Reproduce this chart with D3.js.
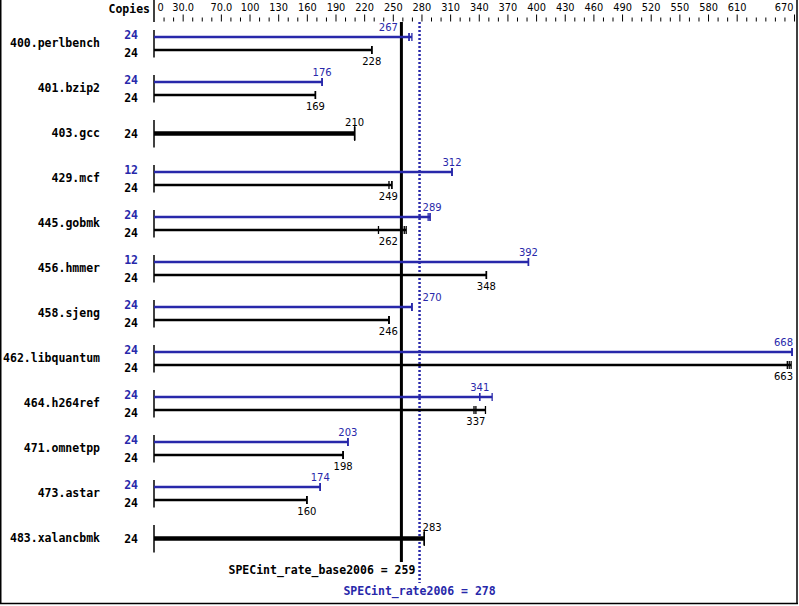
<!DOCTYPE html>
<html><head><meta charset="utf-8">
<script src="https://cdn.jsdelivr.net/npm/d3@7"></script>
<style>
html,body{margin:0;padding:0;background:#fff;}
svg{display:block;}
.mono{font-family:"DejaVu Sans Mono",monospace;font-weight:bold;font-size:11.5px;}
.val{font-family:"DejaVu Sans",sans-serif;font-size:10px;}
.tick text{font-family:"DejaVu Sans",sans-serif;font-size:9.8px;}
</style></head>
<body>
<svg id="chart" width="799" height="606"></svg>
<script>
const benchmarks = ["400.perlbench","401.bzip2","403.gcc","429.mcf","445.gobmk","456.hmmer","458.sjeng","462.libquantum","464.h264ref","471.omnetpp","473.astar","483.xalancbmk"];
const baseCopies = [24,24,24,24,24,24,24,24,24,24,24,24];
const peakCopies = [24,24,null,12,24,12,24,24,24,24,24,null];
const baseRatio = [228,169,210,249,262,348,246,663,337,198,160,283];
const peakRatio = [267,176,null,312,289,392,270,668,341,203,174,null];
const baseRuns = [[228,228,228],[169,169,169],[210,210,210],[246,249,249],[235,262,264],[348,348,348],[246,246,246],[663,665,667],[335,337,347],[198,198,198],[160,160,160],[283,283,283]];
const peakRuns = [[267,267,270],[176,176,176],null,[312,312,312],[287,289,289],[392,392,392],[270,270,270],[668,668,668],[341,341,354],[203,203,203],[174,174,174],null];
const tickValues = [0,30,70,100,130,160,190,220,250,280,310,340,370,400,430,460,490,520,550,580,610,670];
const tickLabels = ["0","30.0","70.0","100","130","160","190","220","250","280","310","340","370","400","430","460","490","520","550","580","610","670"];
const minorTicks = d3.range(10, 670, 10);
const baseMean = 259, peakMean = 278;
const baseMeanLabel = "SPECint_rate_base2006 = 259";
const peakMeanLabel = "SPECint_rate2006 = 278";

const BLUE = "#2828aa";
const svg = d3.select("#chart");
const x = d3.scaleLinear().domain([0,670]).range([154,794]);
const y = d3.scaleBand().domain(benchmarks).range([21,561]).padding(0);
const cy = b => y(b) + y.bandwidth()/2;

// border
svg.append("line").attr("x1",0.75).attr("x2",0.75).attr("y1",0).attr("y2",604).attr("stroke","#000").attr("stroke-width",1.5);
svg.append("line").attr("x1",797).attr("x2",797).attr("y1",0).attr("y2",604).attr("stroke","#000").attr("stroke-width",1.5);
svg.append("line").attr("x1",0).attr("x2",798).attr("y1",603.5).attr("y2",603.5).attr("stroke","#000").attr("stroke-width",1.5);

// header
svg.append("text").attr("class","mono").attr("x",150).attr("y",13).attr("text-anchor","end").text("Copies");
svg.append("line").attr("x1",x(0)).attr("x2",x(0)).attr("y1",0).attr("y2",22).attr("stroke","#000").attr("stroke-width",1.5);

const axisY = 21.5;
const major = svg.append("g").attr("transform",`translate(0,${axisY})`)
  .call(d3.axisTop(x).tickValues(tickValues).tickSize(7).tickPadding(4)
        .tickFormat((d,i)=>tickLabels[i]));
major.select(".domain").remove();
major.selectAll(".tick line").attr("stroke","#000").attr("stroke-width",1).filter(d=>d===0).remove();
major.selectAll(".tick text").attr("fill","#000")
  .attr("text-anchor",d=> d===0 ? "start" : (d===670 ? "end" : "middle"))
  .attr("dx",d=> d===0 ? 3 : (d===670 ? -1 : 0));
const minor = svg.append("g").attr("transform",`translate(0,${axisY})`)
  .call(d3.axisTop(x).tickValues(minorTicks.filter(v=>!tickValues.includes(v))).tickSize(4).tickFormat(""));
minor.select(".domain").remove();
minor.selectAll(".tick line").attr("stroke","#000").attr("stroke-width",1);

// mean lines
svg.append("line").attr("x1",x(baseMean)).attr("x2",x(baseMean)).attr("y1",22).attr("y2",562)
  .attr("stroke","#000").attr("stroke-width",3);
svg.append("line").attr("x1",x(peakMean)).attr("x2",x(peakMean)).attr("y1",22).attr("y2",583)
  .attr("stroke",BLUE).attr("stroke-width",2.5).attr("stroke-dasharray","2,2");
svg.append("text").attr("class","mono").attr("x",x(baseMean)+14).attr("y",574).attr("text-anchor","end").text(baseMeanLabel);
svg.append("text").attr("class","mono").attr("x",x(peakMean)).attr("y",595).attr("text-anchor","middle").attr("fill",BLUE).text(peakMeanLabel);

// keep value labels clear of the mean lines
function placeLabel(sel, value){
  const w = sel.node().getComputedTextLength();
  let cxp = x(value);
  const zones = [[x(baseMean)-3.5, x(baseMean)+3],[x(peakMean)-3.5, x(peakMean)+3]].sort((a,b)=>a[0]-b[0]);
  const merged = [];
  zones.forEach(z=>{
    if (merged.length && z[0]-merged[merged.length-1][1] < w) merged[merged.length-1][1] = Math.max(merged[merged.length-1][1], z[1]);
    else merged.push(z.slice());
  });
  merged.forEach(z=>{
    const l = cxp - w/2, r = cxp + w/2;
    if (r > z[0] && l < z[1]) {
      const left = z[0] - w/2, right = z[1] + w/2;
      cxp = (Math.abs(cxp-left) <= Math.abs(right-cxp)) ? left : right;
    }
  });
  if (cxp + w/2 > 793) cxp = 793 - w/2;
  sel.attr("x", cxp).attr("text-anchor","middle");
}

function drawBar(g, runs, value, by, color, thick, labelAbove){
  const sw = thick ? 4.5 : 2.5;
  const th = thick ? 7 : 4;
  g.append("line").attr("x1",x(0)).attr("x2",x(d3.max(runs))).attr("y1",by).attr("y2",by)
    .attr("stroke",color).attr("stroke-width",sw);
  runs.forEach(r=>{
    g.append("line").attr("x1",x(r)).attr("x2",x(r)).attr("y1",by-th).attr("y2",by+th)
      .attr("stroke",color).attr("stroke-width",1.3);
  });
  const t = g.append("text").attr("class","val").attr("fill",color)
    .attr("y", labelAbove ? by - (thick ? 7.5 : 6) : by + 14.5).text(value);
  placeLabel(t, value);
}

benchmarks.forEach((b,i)=>{
  const c = cy(b);
  const g = svg.append("g");
  g.append("line").attr("x1",x(0)).attr("x2",x(0)).attr("y1",c-13.5).attr("y2",c+14)
    .attr("stroke","#000").attr("stroke-width",1.5);
  g.append("text").attr("class","mono").attr("x",100).attr("y",c+3.5).attr("text-anchor","end").text(b);
  if (peakRatio[i] !== null) {
    g.append("text").attr("class","mono").attr("fill",BLUE).attr("x",138).attr("y",c-4.5).attr("text-anchor","end").text(peakCopies[i]);
    g.append("text").attr("class","mono").attr("x",138).attr("y",c+13.5).attr("text-anchor","end").text(baseCopies[i]);
    drawBar(g, peakRuns[i], peakRatio[i], c-6.5, BLUE, false, true);
    drawBar(g, baseRuns[i], baseRatio[i], c+6.5, "#000", false, false);
  } else {
    g.append("text").attr("class","mono").attr("x",138).attr("y",c+4.5).attr("text-anchor","end").text(baseCopies[i]);
    drawBar(g, baseRuns[i], baseRatio[i], c, "#000", true, true);
  }
});
</script>
</body></html>
